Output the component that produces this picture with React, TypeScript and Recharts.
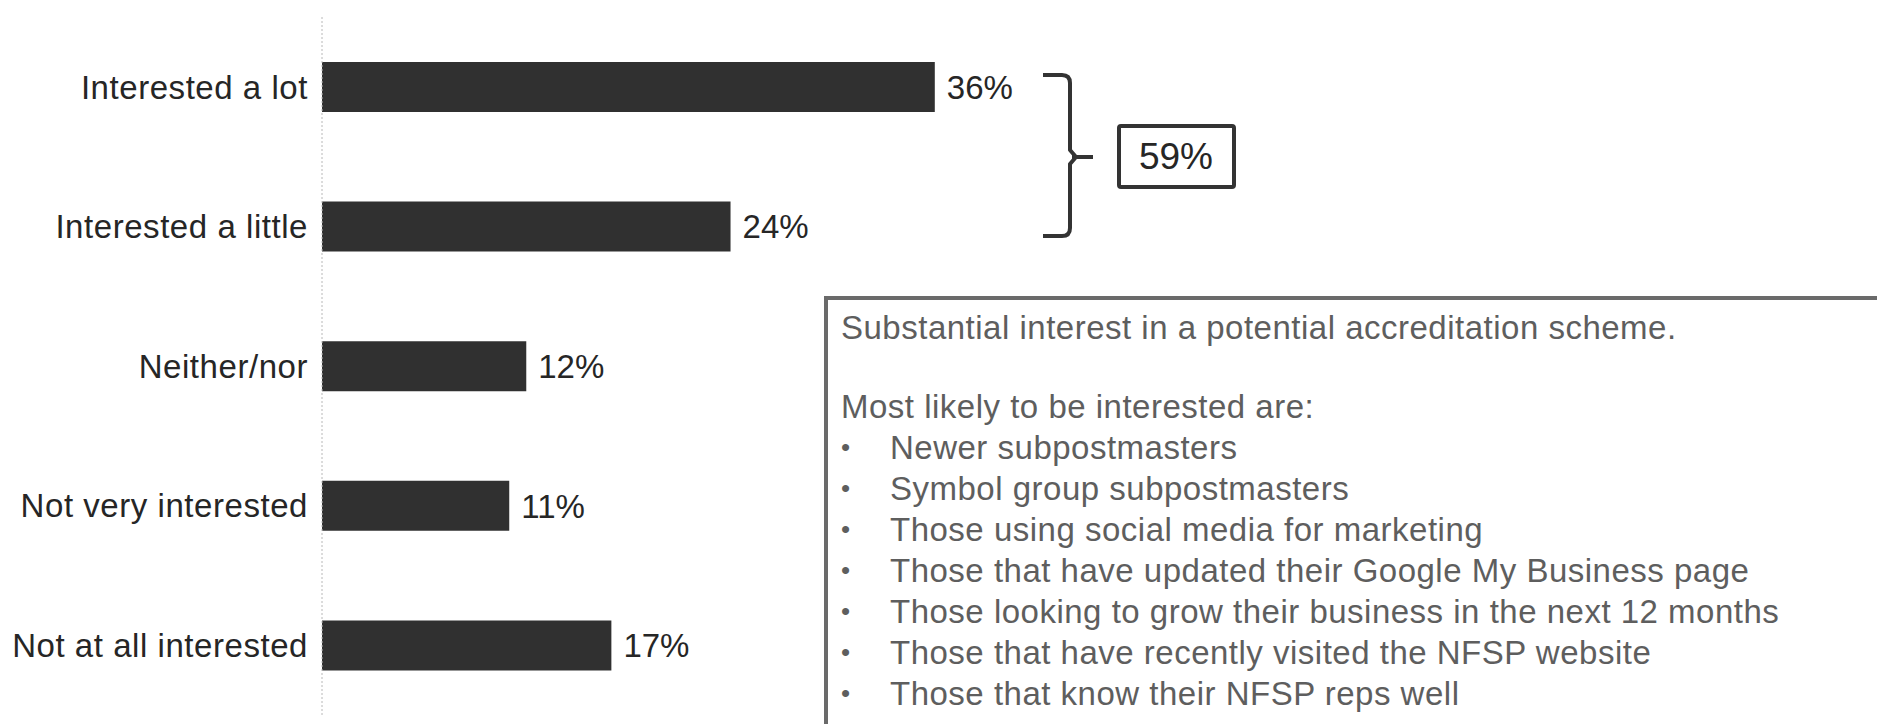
import { BarChart, Bar, XAxis, YAxis, LabelList } from 'recharts'

// survey answers, top to bottom
const categories = [
  'Interested a lot',
  'Interested a little',
  'Neither/nor',
  'Not very interested',
  'Not at all interested',
]
const shares = [36, 24, 12, 11, 17]

// net "interested" figure shown next to the bracket
const interestedTotal = 59

const summaryHeading = 'Substantial interest in a potential accreditation scheme.'
const summaryIntro = 'Most likely to be interested are:'
const summaryPoints = [
  'Newer subpostmasters',
  'Symbol group subpostmasters',
  'Those using social media for marketing',
  'Those that have updated their Google My Business page',
  'Those looking to grow their business in the next 12 months',
  'Those that have recently visited the NFSP website',
  'Those that know their NFSP reps well',
]

const FONT = '"Liberation Sans", Arial, Helvetica, sans-serif'
const INK = '#262626'
const BAR = '#303030'
const NOTE = '#5e5e5e'

export default function App() {
  const data = categories.map((name, i) => ({ name, value: shares[i] }))

  return (
    <div style={{ position: 'absolute', left: 0, top: 0, width: 1877, height: 724, overflow: 'hidden', background: '#fff', fontFamily: FONT }}>
      <BarChart
        width={1877}
        height={724}
        data={data}
        layout="vertical"
        margin={{ top: 17, right: 23, bottom: 9, left: 0 }}
        barSize={50}
      >
        <XAxis type="number" domain={[0, 90]} hide />
        <YAxis
          type="category"
          dataKey="name"
          width={322}
          axisLine={{ stroke: '#b8b8b8', strokeDasharray: '2 2', strokeWidth: 1 }}
          tickLine={false}
          tickSize={0}
          tickMargin={14}
          tick={{ fill: INK, fontSize: 33, fontFamily: FONT, letterSpacing: 0.55 }}
        />
        <Bar dataKey="value" fill={BAR} isAnimationActive={false}>
          <LabelList
            dataKey="value"
            position="right"
            offset={12}
            formatter={(v: number) => `${v}%`}
            style={{ fill: INK, fontSize: 33, fontFamily: FONT }}
          />
        </Bar>
      </BarChart>

      {/* bracket joining the two "interested" bars */}
      <svg width={1877} height={724} style={{ position: 'absolute', left: 0, top: 0, pointerEvents: 'none' }}>
        <path
          d="M1043,75 L1062,75 Q1070,75 1070,83 V150 L1076,157 L1070,164 V228 Q1070,236 1062,236 L1043,236 M1072,157 H1093"
          fill="none"
          stroke="#333"
          strokeWidth={4}
          strokeLinejoin="round"
        />
        <rect x={1119} y={126} width={115} height={61} fill="#fff" stroke="#333" strokeWidth={4} rx={2} />
        <text x={1176} y={169} textAnchor="middle" fill={INK} fontSize={37} fontFamily={FONT}>
          {`${interestedTotal}%`}
        </text>
      </svg>

      {/* commentary panel */}
      <div
        style={{
          position: 'absolute',
          left: 824,
          top: 296,
          width: 1100,
          height: 500,
          border: '4px solid #6a6a6a',
          padding: '7px 0 0 13px',
          color: NOTE,
          fontSize: 33,
          lineHeight: '41px',
          letterSpacing: 0.5,
          boxSizing: 'border-box',
        }}
      >
        <div>{summaryHeading}</div>
        <div style={{ marginTop: 38 }}>{summaryIntro}</div>
        {summaryPoints.map((p) => (
          <div key={p} style={{ display: 'flex' }}>
            <span style={{ width: 49, flex: 'none', fontSize: 26 }}>•</span>
            <span>{p}</span>
          </div>
        ))}
      </div>
    </div>
  )
}
